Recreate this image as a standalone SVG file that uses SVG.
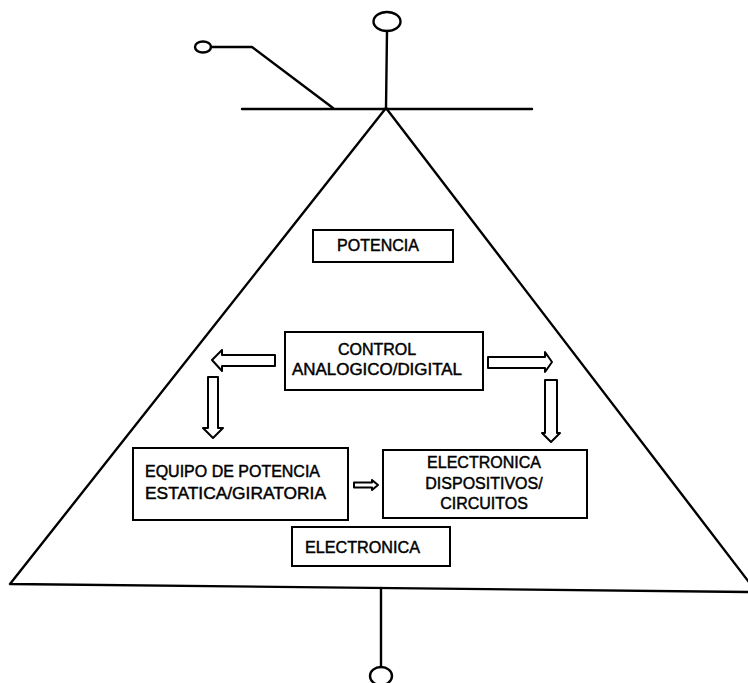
<svg xmlns="http://www.w3.org/2000/svg" width="748" height="683" viewBox="0 0 748 683">
<style>
.ln{fill:none;stroke:#000;stroke-width:2.4;stroke-linejoin:round;stroke-linecap:round}
.box{fill:#fff;stroke:#000;stroke-width:2}
.arr{fill:#fff;stroke:#000;stroke-width:2;stroke-linejoin:round}
.t{font-family:"Liberation Sans",Arial,sans-serif;font-size:16px;fill:#000;stroke:#000;stroke-width:0.45}
.c{text-anchor:middle}
</style>
<rect width="748" height="683" fill="#fff"/>
<g id="connectors">
<ellipse class="ln" cx="387" cy="21.5" rx="13.5" ry="9.5"/>
<line class="ln" x1="387" y1="31" x2="386" y2="108"/>
<line class="ln" x1="242" y1="109" x2="532" y2="109"/>
<ellipse class="ln" cx="203" cy="47" rx="8" ry="5.5"/>
<polyline class="ln" points="211,47 252,47 333,108"/>
<polyline class="ln" points="386,108 10,584 748,592"/>
<line class="ln" x1="386" y1="108" x2="755" y2="590"/>
<line class="ln" x1="381" y1="588" x2="381" y2="667"/>
<ellipse class="ln" cx="381" cy="676" rx="11" ry="9"/>
<polygon class="arr" points="212,360 222,350 222,355 275,355 275,366 222,366 222,371"/>
<polygon class="arr" points="552,362 545,352 545,357 488,357 488,368 545,368 545,372"/>
<polygon class="arr" points="213,438 203,428 208,428 208,377 218,377 218,428 223,428"/>
<polygon class="arr" points="551,442 542,433 545,433 545,380 557,380 557,433 560,433"/>
<polygon class="arr" points="378,485 372,480 372,482.5 354,482.5 354,487.5 372,487.5 372,490"/>
</g>
<g id="potencia">
<rect class="box" x="313" y="230" width="140" height="32"/>
<text class="t c" x="378" y="251">POTENCIA</text>
</g>
<g id="control">
<rect class="box" x="285" y="332" width="198" height="58"/>
<text class="t c" x="377" y="355">CONTROL</text>
<text class="t c" x="377" y="375" textLength="170" lengthAdjust="spacingAndGlyphs">ANALOGICO/DIGITAL</text>
</g>
<g id="equipo">
<rect class="box" x="133" y="448" width="215" height="72"/>
<text class="t" x="145" y="477" textLength="175" lengthAdjust="spacingAndGlyphs">EQUIPO DE POTENCIA</text>
<text class="t" x="145" y="499" textLength="181" lengthAdjust="spacingAndGlyphs">ESTATICA/GIRATORIA</text>
</g>
<g id="dispositivos">
<rect class="box" x="383" y="450" width="204" height="68"/>
<text class="t c" x="484" y="468">ELECTRONICA</text>
<text class="t c" x="484" y="489">DISPOSITIVOS/</text>
<text class="t c" x="484" y="509">CIRCUITOS</text>
</g>
<g id="electronica">
<rect class="box" x="292" y="527" width="158" height="39"/>
<text class="t" x="305" y="553" textLength="115" lengthAdjust="spacingAndGlyphs">ELECTRONICA</text>
</g>
</svg>
